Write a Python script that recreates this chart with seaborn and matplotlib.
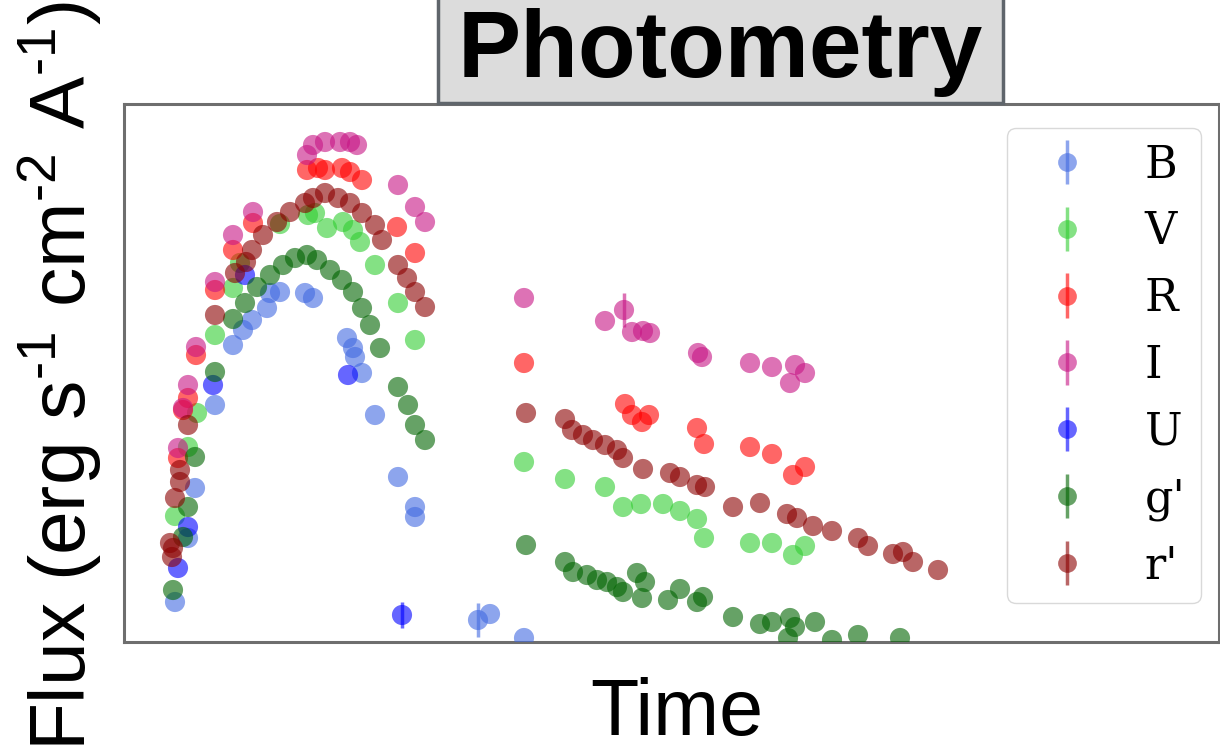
import numpy as np
import pandas as pd
import matplotlib
matplotlib.use("Agg")
import matplotlib.pyplot as plt
from matplotlib.patches import Rectangle
import seaborn as sns

# ---- light-curve measurements (time in days, flux in arbitrary units) ----
# errors of 0 mark points whose uncertainty is smaller than the symbol
B_time = [5.1, 6.4, 7.1, 9.1, 10.9, 11.9, 12.8, 14.3, 14.6, 15.6, 18.1, 18.9,
          22.3, 22.9, 23.1, 23.8, 25.1, 27.4, 29.1, 29.1, 35.4, 36.6, 40.0]
B_flux = [0.40, 1.04, 1.54, 2.37, 2.97, 3.12, 3.22, 3.34, 3.49, 3.50, 3.49, 3.44,
          3.04, 2.94, 2.85, 2.69, 2.27, 1.65, 1.35, 1.25, 0.22, 0.28, 0.04]
B_err = [0, 0, 0, 0, 0, 0, 0, 0, 0, 0, 0, 0,
         0, 0, 0, 0, 0, 0, 0, 0, 0.17, 0, 0]

V_time = [5.1, 6.4, 7.3, 9.1, 10.9, 11.6, 15.6, 18.4, 19.1, 20.3, 21.9, 22.9,
          23.6, 25.1, 27.4, 29.1, 40.0, 44.1, 48.1, 49.9, 51.7, 53.9, 55.6, 57.3,
          58.0, 62.6, 64.8, 66.9, 68.1]
V_flux = [1.26, 1.95, 2.29, 3.07, 3.54, 3.79, 4.18, 4.27, 4.29, 4.14, 4.20, 4.12,
          4.00, 3.77, 3.39, 3.02, 1.80, 1.63, 1.55, 1.35, 1.38, 1.38, 1.31, 1.23,
          1.04, 0.99, 0.99, 0.87, 0.96]
V_err = [0, 0, 0, 0, 0, 0, 0, 0, 0, 0, 0, 0,
         0, 0, 0, 0, 0, 0, 0, 0, 0, 0, 0, 0,
         0, 0, 0, 0, 0]

R_time = [5.4, 5.9, 6.4, 7.2, 9.1, 10.9, 12.9, 18.3, 19.4, 20.1, 21.8, 22.6,
          23.8, 27.3, 29.1, 40.0, 50.1, 50.8, 51.8, 52.5, 57.3, 58.0, 62.6, 64.8,
          66.9, 68.1]
R_flux = [1.84, 2.32, 2.44, 2.87, 3.52, 3.92, 4.19, 4.72, 4.74, 4.72, 4.74, 4.70,
          4.62, 4.15, 3.89, 2.79, 2.38, 2.27, 2.20, 2.27, 2.14, 1.98, 1.95, 1.88,
          1.67, 1.75]
R_err = [0, 0, 0, 0, 0, 0, 0, 0, 0, 0, 0, 0,
         0, 0, 0, 0, 0, 0, 0, 0, 0, 0, 0, 0,
         0, 0]

I_time = [5.4, 5.9, 6.4, 7.2, 9.1, 10.9, 12.9, 18.3, 18.9, 20.1, 21.6, 22.6,
          23.3, 27.4, 29.1, 30.1, 40.0, 48.1, 50.0, 50.8, 51.9, 52.6, 57.4, 57.8,
          62.6, 64.8, 66.6, 67.1, 68.1]
I_flux = [1.94, 2.34, 2.57, 2.95, 3.60, 4.07, 4.30, 4.87, 4.97, 5.00, 5.00, 5.00,
          4.97, 4.57, 4.35, 4.20, 3.44, 3.21, 3.32, 3.10, 3.11, 3.09, 2.89, 2.85,
          2.79, 2.75, 2.59, 2.77, 2.69]
I_err = [0, 0, 0, 0, 0, 0, 0, 0, 0, 0, 0, 0,
         0, 0, 0, 0, 0, 0, 0.17, 0, 0, 0, 0, 0,
         0, 0, 0, 0, 0]

U_time = [5.4, 6.4, 8.9, 12.1, 22.4, 27.8]
U_flux = [0.74, 1.15, 2.57, 3.67, 2.67, 0.27]
U_err = [0, 0, 0, 0, 0, 0.13]

gp_time = [4.9, 5.9, 6.4, 7.1, 9.1, 10.9, 12.1, 13.3, 14.6, 15.9, 17.1, 18.3,
           19.3, 20.6, 21.8, 22.9, 23.8, 24.6, 25.6, 27.4, 28.4, 29.1, 30.1,
           40.2, 44.1, 44.9, 46.3, 47.3, 48.3, 49.3, 49.9, 51.3, 51.8, 52.1,
           54.4, 55.6, 57.3, 57.9, 60.9, 63.6, 64.8, 66.4, 66.6, 67.1, 69.1,
           70.8, 73.4, 77.6]
gp_flux = [0.52, 1.05, 1.35, 1.85, 2.70, 3.23, 3.39, 3.55, 3.67, 3.77, 3.84, 3.87,
           3.82, 3.72, 3.62, 3.50, 3.34, 3.17, 2.94, 2.55, 2.37, 2.17, 2.02,
           0.97, 0.80, 0.70, 0.67, 0.62, 0.60, 0.55, 0.50, 0.69, 0.44, 0.60,
           0.42, 0.53, 0.40, 0.45, 0.25, 0.18, 0.20, 0.04, 0.24, 0.15, 0.20,
           0.02, 0.07, 0.04]
gp_err = [0, 0, 0, 0, 0, 0, 0, 0, 0, 0, 0, 0,
          0, 0, 0, 0, 0, 0, 0, 0, 0, 0, 0,
          0, 0, 0, 0, 0, 0, 0, 0, 0, 0, 0,
          0, 0, 0, 0, 0, 0, 0, 0, 0, 0, 0,
          0, 0, 0]

rp_time = [4.6, 4.8, 4.9, 5.1, 5.6, 5.6, 6.4, 9.1, 11.1, 12.2, 12.8, 13.9,
           15.3, 16.6, 18.1, 18.9, 20.1, 21.4, 22.6, 23.8, 25.1, 25.8, 27.4,
           28.3, 29.1, 30.1, 40.2, 44.1, 44.8, 45.9, 46.9, 48.1, 49.3, 49.9,
           51.9, 54.6, 55.6, 57.3, 58.1, 60.9, 63.6, 66.3, 67.3, 68.9, 70.8,
           73.4, 74.4, 76.9, 77.9, 78.9, 81.4]
rp_flux = [0.99, 0.85, 0.94, 1.44, 1.72, 1.60, 2.17, 3.27, 3.69, 3.80, 3.92, 4.07,
           4.20, 4.30, 4.39, 4.44, 4.49, 4.44, 4.39, 4.29, 4.17, 4.02, 3.77,
           3.64, 3.50, 3.35, 2.29, 2.23, 2.12, 2.07, 2.02, 1.97, 1.92, 1.84,
           1.73, 1.69, 1.65, 1.57, 1.55, 1.35, 1.39, 1.28, 1.24, 1.16, 1.11,
           1.04, 0.96, 0.88, 0.90, 0.80, 0.72]
rp_err = [0, 0, 0, 0, 0, 0, 0, 0, 0, 0, 0, 0,
          0, 0, 0, 0, 0, 0, 0, 0, 0, 0, 0,
          0, 0, 0, 0, 0, 0, 0, 0, 0, 0, 0,
          0, 0, 0, 0, 0, 0, 0, 0, 0, 0, 0,
          0, 0, 0, 0, 0, 0]

bands = ["B", "V", "R", "I", "U", "g'", "r'"]
band_colors = ["royalblue", "limegreen", "red", "mediumvioletred", "blue",
               "darkgreen", "darkred"]
series = {
    "B": (B_time, B_flux, B_err),
    "V": (V_time, V_flux, V_err),
    "R": (R_time, R_flux, R_err),
    "I": (I_time, I_flux, I_err),
    "U": (U_time, U_flux, U_err),
    "g'": (gp_time, gp_flux, gp_err),
    "r'": (rp_time, rp_flux, rp_err),
}

frames = []
for b in bands:
    t, f, e = series[b]
    frames.append(pd.DataFrame({"time": t, "flux": f, "err": e, "band": b}))
df = pd.concat(frames, ignore_index=True)

# ---- styling ----
sns.set_theme(style="white")
plt.rcParams["font.family"] = ["Liberation Sans", "DejaVu Sans"]
plt.rcParams["text.color"] = "black"
plt.rcParams["mathtext.fontset"] = "custom"
plt.rcParams["mathtext.rm"] = "Liberation Sans"
plt.rcParams["mathtext.it"] = "Liberation Sans:italic"
plt.rcParams["mathtext.bf"] = "Liberation Sans:bold"

W, H = 1220, 751
fig = plt.figure(figsize=(W / 100, H / 100), dpi=100)
ax = fig.add_axes([124 / W, 1 - 642 / H, (1219 - 124) / W, (642 - 104) / H])

ALPHA = 0.6
MS = 14.5
palette = dict(zip(bands, band_colors))

sns.scatterplot(data=df, x="time", y="flux", hue="band", hue_order=bands,
                palette=palette, s=MS ** 2, alpha=ALPHA, linewidth=0,
                legend=False, ax=ax, zorder=3)

for b in bands:
    sub = df[(df["band"] == b) & (df["err"] > 0)]
    if len(sub):
        ax.errorbar(sub["time"], sub["flux"], yerr=sub["err"], fmt="none",
                    ecolor=palette[b], elinewidth=2.5, alpha=ALPHA, zorder=2)

ax.set_xlim(0, 109.5)
ax.set_ylim(0, 5.38)
ax.set_xticks([])
ax.set_yticks([])
ax.set_xlabel("")
ax.set_ylabel("")
for sp in ax.spines.values():
    sp.set_color("#6e6e6e")
    sp.set_linewidth(2.2)

# legend with errorbar-style handles
handles = []
for b in bands:
    h = ax.errorbar([np.nan], [np.nan], yerr=[np.nan], fmt="o", ms=MS - 1,
                    color=palette[b], mec="none", elinewidth=2.5, alpha=ALPHA,
                    label=b)
    handles.append(h)
leg = ax.legend(handles, bands, loc="upper right",
                bbox_to_anchor=(1201 / W, 1 - 128 / H),
                bbox_transform=fig.transFigure,
                borderaxespad=0, prop={"family": "DejaVu Serif", "size": 32},
                frameon=True, fancybox=True, edgecolor="#d9d9d9", framealpha=1,
                handlelength=2.0, handletextpad=0.75, labelspacing=0.53,
                borderpad=0.35)
for txt in leg.get_texts():
    txt.set_color("black")

# title in a grey box
fig.patches.append(Rectangle((438 / W, 1 - 103 / H), (1003 - 438) / W, 120 / H,
                             transform=fig.transFigure, facecolor="#dcdcdc",
                             edgecolor="#5f656b", linewidth=2.5, zorder=5))
fig.text(720.5 / W, 1 - 77 / H, "Photometry", ha="center", va="baseline",
         fontsize=68, fontweight="bold", color="black", zorder=6)

fig.text(60 / W, 1 - 376 / H,
         r"Flux (erg s$^{\text{-}1}$ cm$^{\text{-}2}$ A$^{\text{-}1}$)",
         rotation=90, ha="center", va="center", fontsize=56.5, color="black")
fig.text(677 / W, 1 - 735 / H, "Time", ha="center", va="baseline",
         fontsize=57, color="black")

fig.savefig("out.png", dpi=100)
